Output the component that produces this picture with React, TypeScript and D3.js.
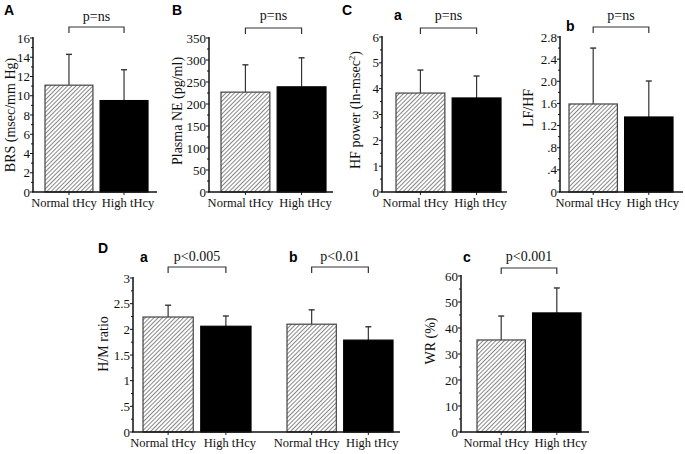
import * as d3 from 'd3';

const groups = ['Normal tHcy', 'High tHcy'];

// A: baroreflex sensitivity
const brsMean = [11.1, 9.5];
const brsErr = [3.2, 3.2];
const brsTicks = [0, 2, 4, 6, 8, 10, 12, 14, 16];

// B: plasma norepinephrine
const neMean = [227, 239];
const neErr = [62, 66];
const neTicks = [0, 50, 100, 150, 200, 250, 300, 350];

// C a: HF power
const hfMean = [3.83, 3.64];
const hfErr = [0.89, 0.85];
const hfTicks = [0, 1, 2, 3, 4, 5, 6];

// C b: LF/HF
const lfhfMean = [1.59, 1.355];
const lfhfErr = [1.01, 0.65];
const lfhfTicks = [0, 0.4, 0.8, 1.2, 1.6, 2.0, 2.4, 2.8];
const lfhfLabels = ['0', '.4', '.8', '1.2', '1.6', '2.0', '2.4', '2.8'];

// D a / b: H/M ratio
const hmaMean = [2.24, 2.06];
const hmaErr = [0.23, 0.2];
const hmbMean = [2.1, 1.79];
const hmbErr = [0.28, 0.26];
const hmTicks = [0, 0.5, 1, 1.5, 2, 2.5, 3];
const hmLabels = ['0', '.5', '1', '1.5', '2', '2.5', '3'];

// D c: wall ratio
const wrMean = [35.4, 45.8];
const wrErr = [9.2, 9.6];
const wrTicks = [0, 10, 20, 30, 40, 50, 60];

const serif = '"Liberation Serif", "Times New Roman", serif';
const sans = '"Liberation Sans", Arial, sans-serif';

// category labels sit a bit apart from the bar centres in the original
const labelShift = [-5, 4];

interface Group {
  range: [number, number];
  mean: number[];
  err: number[];
  p: string;
}

interface PanelSpec {
  axisX: number;
  endX: number;
  top: number;
  bottom: number;
  max: number;
  ticks: number[];
  labels?: string[];
  groups: Group[];
  bracketY: number;
  pY: number;
  title: React.ReactNode;
  titleX: number;
  titleY: number;
}

function Panel({ s }: { s: PanelSpec }) {
  const y = d3.scaleLinear().domain([0, s.max]).range([s.bottom, s.top]);
  const minors = s.ticks.slice(1).map((t, i) => (t + s.ticks[i]) / 2);
  return (
    <g>
      {s.groups.map((g, gi) => {
        const x = d3.scaleBand<string>().domain(groups).range(g.range).paddingInner(0.13).paddingOuter(0);
        const cx = (k: string) => (x(k) ?? 0) + x.bandwidth() / 2;
        return (
          <g key={gi}>
            {groups.map((k, i) => (
              <g key={k}>
                <line x1={cx(k)} x2={cx(k)} y1={y(g.mean[i])} y2={y(g.mean[i] + g.err[i])} stroke="#333" strokeWidth={1.2} />
                <line x1={cx(k) - 3} x2={cx(k) + 3} y1={y(g.mean[i] + g.err[i])} y2={y(g.mean[i] + g.err[i])} stroke="#333" strokeWidth={1.4} />
                <rect
                  x={x(k)}
                  y={y(g.mean[i])}
                  width={x.bandwidth()}
                  height={s.bottom - y(g.mean[i])}
                  fill={i === 0 ? 'url(#hatch)' : '#000'}
                  stroke={i === 0 ? '#444' : '#000'}
                  strokeWidth={1.2}
                />
                <line x1={cx(k)} x2={cx(k)} y1={s.bottom} y2={s.bottom + 3} stroke="#222" strokeWidth={1} />
                <text x={cx(k) + labelShift[i]} y={s.bottom + 15} textAnchor="middle" fontFamily={serif} fontSize={12.5} fill="#111">{k}</text>
              </g>
            ))}
            <path
              d={`M${cx(groups[0])},${s.bracketY + 6}V${s.bracketY}H${cx(groups[1])}V${s.bracketY + 6}`}
              fill="none"
              stroke="#333"
              strokeWidth={1.2}
            />
            <text x={(cx(groups[0]) + cx(groups[1])) / 2} y={s.pY} textAnchor="middle" fontFamily={serif} fontSize={14} fill="#111">{g.p}</text>
          </g>
        );
      })}
      {/* axes */}
      <line x1={s.axisX} x2={s.axisX} y1={s.bottom} y2={s.top - 1} stroke="#111" strokeWidth={1.5} />
      <line x1={s.axisX - 1} x2={s.endX} y1={s.bottom} y2={s.bottom} stroke="#111" strokeWidth={1.5} />
      {s.ticks.map((t, i) => (
        <g key={t}>
          <line x1={s.axisX - 3} x2={s.axisX} y1={y(t)} y2={y(t)} stroke="#111" strokeWidth={1} />
          <text x={s.axisX - 3} y={y(t) + 4.5} textAnchor="end" fontFamily={serif} fontSize={13} fill="#111">
            {s.labels ? s.labels[i] : String(t)}
          </text>
        </g>
      ))}
      {minors.map((t) => (
        <line key={t} x1={s.axisX - 2} x2={s.axisX} y1={y(t)} y2={y(t)} stroke="#111" strokeWidth={1} />
      ))}
      <text
        transform={`translate(${s.titleX},${s.titleY}) rotate(-90)`}
        textAnchor="middle"
        fontFamily={serif}
        fontSize={14}
        fill="#111"
      >
        {s.title}
      </text>
    </g>
  );
}

const panels: PanelSpec[] = [
  {
    axisX: 33, endX: 157, top: 38, bottom: 192, max: 16, ticks: brsTicks,
    groups: [{ range: [45, 148], mean: brsMean, err: brsErr, p: 'p=ns' }],
    bracketY: 27, pY: 21, title: 'BRS (msec/mm Hg)', titleX: 15, titleY: 115,
  },
  {
    axisX: 209, endX: 333, top: 38, bottom: 192, max: 350, ticks: neTicks,
    groups: [{ range: [221, 326], mean: neMean, err: neErr, p: 'p=ns' }],
    bracketY: 28, pY: 20, title: 'Plasma NE (pg/ml)', titleX: 182, titleY: 111,
  },
  {
    axisX: 382, endX: 507, top: 37, bottom: 192, max: 6, ticks: hfTicks,
    groups: [{ range: [396, 501], mean: hfMean, err: hfErr, p: 'p=ns' }],
    bracketY: 28, pY: 20,
    title: (
      <>
        HF power (ln-msec<tspan dy={-5} fontSize={9}>2</tspan><tspan dy={5}>)</tspan>
      </>
    ),
    titleX: 360, titleY: 110,
  },
  {
    axisX: 560, endX: 683, top: 37, bottom: 192, max: 2.8, ticks: lfhfTicks, labels: lfhfLabels,
    groups: [{ range: [569, 673], mean: lfhfMean, err: lfhfErr, p: 'p=ns' }],
    bracketY: 27, pY: 20, title: 'LF/HF', titleX: 533, titleY: 108,
  },
  {
    axisX: 133, endX: 400, top: 278, bottom: 432, max: 3, ticks: hmTicks, labels: hmLabels,
    groups: [
      { range: [143, 251], mean: hmaMean, err: hmaErr, p: 'p<0.005' },
      { range: [287, 393], mean: hmbMean, err: hmbErr, p: 'p<0.01' },
    ],
    bracketY: 267, pY: 261, title: 'H/M ratio', titleX: 108, titleY: 344,
  },
  {
    axisX: 461, endX: 589, top: 276, bottom: 432, max: 60, ticks: wrTicks,
    groups: [{ range: [477, 581], mean: wrMean, err: wrErr, p: 'p<0.001' }],
    bracketY: 268, pY: 261, title: 'WR (%)', titleX: 435, titleY: 341,
  },
];

const letters: [string, number, number][] = [
  ['A', 4, 15], ['B', 172, 15], ['C', 342, 15], ['a', 394, 20], ['b', 566, 31],
  ['D', 98, 253], ['a', 140, 262], ['b', 289, 262], ['c', 463, 262],
];

export default function App() {
  return (
    <svg width={685} height={454} style={{ position: 'absolute', left: 0, top: 0, background: '#fff' }}>
      <defs>
        <pattern id="hatch" patternUnits="userSpaceOnUse" width={3} height={3} patternTransform="rotate(45)">
          <rect width={3} height={3} fill="#fff" />
          <line x1={0} y1={0} x2={0} y2={3} stroke="#555" strokeWidth={1.4} />
        </pattern>
      </defs>
      {panels.map((s, i) => (
        <Panel key={i} s={s} />
      ))}
      {letters.map(([t, x, yy], i) => (
        <text key={i} x={x} y={yy} fontFamily={sans} fontWeight="bold" fontSize={14} fill="#000">{t}</text>
      ))}
    </svg>
  );
}
